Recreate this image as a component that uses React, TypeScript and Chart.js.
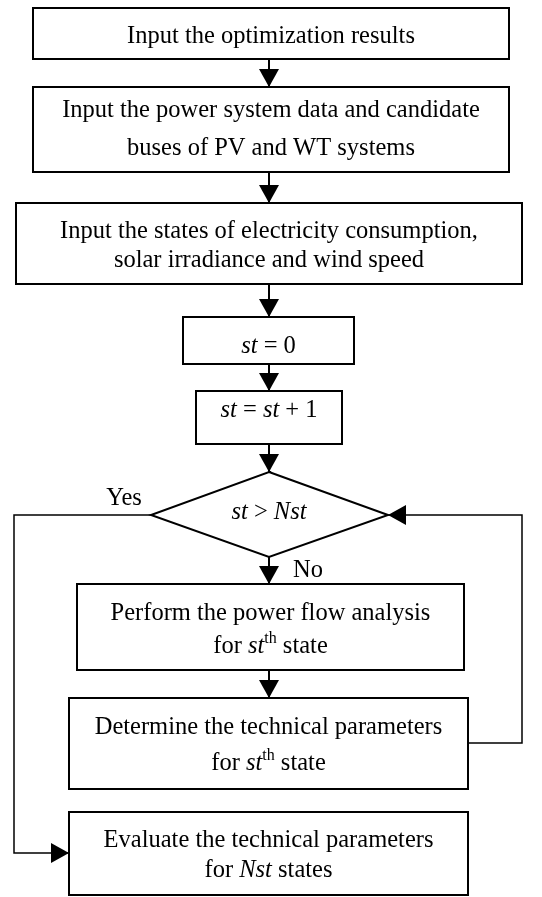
import { useEffect, useRef } from "react";
import { Chart, registerables } from "chart.js";
Chart.register(...registerables);

const canvasW = 542;
const canvasH = 897;

// Process boxes (text: *italic*, ^superscript^)
const boxLabels: string[][] = [
  ["Input the optimization results"],
  ["Input the power system data and candidate", "buses of PV and WT systems"],
  ["Input the states of electricity consumption,", "solar irradiance and wind speed"],
  ["*st* = 0"],
  ["*st* = *st* + 1"],
  ["Perform the power flow analysis", "for *st*^th^ state"],
  ["Determine the technical parameters", "for *st*^th^ state"],
  ["Evaluate the technical parameters", "for *Nst* states"],
];
const boxLeft = [33, 33, 16, 183, 196, 77, 69, 69];
const boxRight = [509, 509, 522, 354, 342, 464, 468, 468];
const boxTop = [8, 87, 203, 317, 391, 584, 698, 812];
const boxBottom = [59, 172, 284, 364, 444, 670, 789, 895];
const boxBaselines = [[43], [117, 155], [238, 267], [353], [417], [620, 653], [734, 770], [847, 877]];

// Decision diamond
const decisionLabel = "*st* > *Nst*";
const decisionX = [151, 269, 388];
const decisionY = [472, 515, 557];
const decisionBaseline = 519;

// Branch labels
const branchLabels = ["Yes", "No"];
const branchX = [124, 308];
const branchBaseline = [505, 577];

// Connectors (each ends with an arrow)
const flowPaths: number[][][] = [
  [[269, 59], [269, 87]],
  [[269, 172], [269, 203]],
  [[269, 284], [269, 317]],
  [[269, 364], [269, 391]],
  [[269, 444], [269, 472]],
  [[269, 557], [269, 584]],
  [[269, 670], [269, 698]],
  [[151, 515], [14, 515], [14, 853], [69, 853]],
  [[468, 743], [522, 743], [522, 515], [388, 515]],
];
const flowWidths = [2, 2, 2, 2, 2, 2, 2, 1.5, 1.5];

const FONT = '"Liberation Serif", "Times New Roman", serif';
const FS = 24.5;
const SUP = 16;

type Run = { t: string; i: boolean; sup: boolean };
function parse(s: string): Run[] {
  const parts = s.split(/(\*[^*]+\*|\^[^^]+\^)/).filter((p) => p.length);
  return parts.map((p) => {
    if (p.startsWith("*")) return { t: p.slice(1, -1), i: true, sup: false };
    if (p.startsWith("^")) return { t: p.slice(1, -1), i: false, sup: true };
    return { t: p, i: false, sup: false };
  });
}
function fontFor(r: Run) {
  return `${r.i ? "italic " : ""}${r.sup ? SUP : FS}px ${FONT}`;
}
function drawRich(ctx: CanvasRenderingContext2D, s: string, cx: number, by: number) {
  const runs = parse(s);
  let total = 0;
  const widths = runs.map((r) => {
    ctx.font = fontFor(r);
    const w = ctx.measureText(r.t).width;
    total += w;
    return w;
  });
  let x = cx - total / 2;
  ctx.textAlign = "left";
  ctx.textBaseline = "alphabetic";
  runs.forEach((r, k) => {
    ctx.font = fontFor(r);
    ctx.fillText(r.t, x, r.sup ? by - 10 : by);
    x += widths[k];
  });
}

export default function App() {
  const ref = useRef<HTMLCanvasElement>(null);
  useEffect(() => {
    document.body.style.margin = "0";
    const canvas = ref.current!;
    const datasets: any[] = [];
    boxLabels.forEach((_, k) => {
      datasets.push({
        data: [
          { x: boxLeft[k], y: boxTop[k] },
          { x: boxRight[k], y: boxTop[k] },
          { x: boxRight[k], y: boxBottom[k] },
          { x: boxLeft[k], y: boxBottom[k] },
          { x: boxLeft[k], y: boxTop[k] },
          { x: boxRight[k], y: boxTop[k] },
        ],
        borderColor: "#000",
        borderWidth: 2,
        borderJoinStyle: "miter",
        showLine: true,
        pointRadius: 0,
        clip: false,
      });
    });
    datasets.push({
      data: [
        { x: decisionX[1], y: decisionY[0] },
        { x: decisionX[2], y: decisionY[1] },
        { x: decisionX[1], y: decisionY[2] },
        { x: decisionX[0], y: decisionY[1] },
        { x: decisionX[1], y: decisionY[0] },
        { x: decisionX[2], y: decisionY[1] },
      ],
      borderColor: "#000",
      borderWidth: 2,
      borderJoinStyle: "miter",
      showLine: true,
      pointRadius: 0,
      clip: false,
    });
    flowPaths.forEach((p, k) => {
      datasets.push({
        data: p.map(([x, y]) => ({ x, y })),
        borderColor: "#000",
        borderWidth: flowWidths[k],
        borderJoinStyle: "miter",
        showLine: true,
        pointRadius: 0,
        clip: false,
      });
    });

    const overlay = {
      id: "overlay",
      afterDatasetsDraw(chart: any) {
        const ctx: CanvasRenderingContext2D = chart.ctx;
        const xs = chart.scales.x;
        const ys = chart.scales.y;
        const px = (v: number) => xs.getPixelForValue(v);
        const py = (v: number) => ys.getPixelForValue(v);
        ctx.save();
        ctx.fillStyle = "#000";
        // arrowheads
        flowPaths.forEach((p) => {
          const [x2, y2] = p[p.length - 1];
          const [x1, y1] = p[p.length - 2];
          const tx = px(x2), ty = py(y2);
          const dx = px(x2) - px(x1), dy = py(y2) - py(y1);
          const len = Math.hypot(dx, dy);
          const ux = dx / len, uy = dy / len;
          const L = 18, Wd = 10;
          const bx = tx - ux * L, by = ty - uy * L;
          ctx.beginPath();
          ctx.moveTo(tx, ty);
          ctx.lineTo(bx - uy * Wd, by + ux * Wd);
          ctx.lineTo(bx + uy * Wd, by - ux * Wd);
          ctx.closePath();
          ctx.fill();
        });
        // box texts
        boxLabels.forEach((lines, k) => {
          const cx = px((boxLeft[k] + boxRight[k]) / 2);
          lines.forEach((ln, j) => drawRich(ctx, ln, cx, py(boxBaselines[k][j])));
        });
        drawRich(ctx, decisionLabel, px(decisionX[1]), py(decisionBaseline));
        branchLabels.forEach((b, k) => drawRich(ctx, b, px(branchX[k]), py(branchBaseline[k])));
        ctx.restore();
      },
    };

    const chart = new Chart(canvas, {
      type: "scatter",
      data: { datasets },
      options: {
        animation: false,
        responsive: false,
        layout: { padding: 0 },
        plugins: { legend: { display: false }, tooltip: { enabled: false } },
        events: [],
        scales: {
          x: { type: "linear", min: 0, max: canvasW, display: false },
          y: { type: "linear", min: 0, max: canvasH, reverse: true, display: false },
        },
      },
      plugins: [overlay],
    });
    return () => chart.destroy();
  }, []);
  return (
    <div style={{ position: "fixed", left: 0, top: 0, width: canvasW, height: canvasH, background: "#fff" }}>
      <canvas ref={ref} width={canvasW} height={canvasH} />
    </div>
  );
}
